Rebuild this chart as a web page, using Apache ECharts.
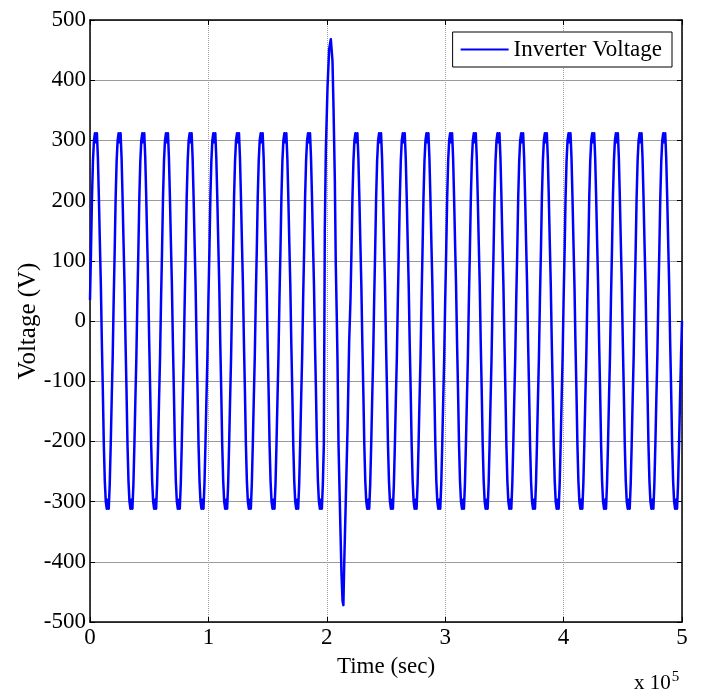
<!DOCTYPE html>
<html><head><meta charset="utf-8">
<script src="https://cdn.jsdelivr.net/npm/echarts@6/dist/echarts.min.js"></script>
<style>html,body{margin:0;padding:0;background:#fff}#c{width:701px;height:691px}</style>
</head><body><div id="c"></div>
<script>
// ---- data (time in units of 1e5, voltage in V) ----
const xTickLabels = ['0', '1', '2', '3', '4', '5'];
const yTickValues = [-500, -400, -300, -200, -100, 0, 100, 200, 300, 400, 500];
const seriesName = 'Inverter Voltage';
// start time of each fundamental cycle
const cycleStarts = [0, 0.2, 0.4, 0.6, 0.8, 1.0, 1.2, 1.4, 1.6, 1.8, 2.0, 2.2, 2.4,
  2.6, 2.8, 3.0, 3.2, 3.4, 3.6, 3.8, 4.0, 4.2, 4.4, 4.6, 4.8];
const cycleLength = 0.2;
// staircase levels of one normal cycle (held values)
const stepLevels = [35, 115, 205, 266, 300, 312, 297, 312, 271, 205, 130, 60,
  -35, -115, -205, -266, -300, -312, -297, -312, -271, -205, -130, -60];
// disturbed cycle near t = 2e5 (times and held values)
const transientT = [1.983, 1.992, 2.006, 2.020, 2.034, 2.048, 2.057, 2.068, 2.076, 2.084,
  2.090, 2.099, 2.113, 2.124, 2.133, 2.140, 2.147, 2.161, 2.175, 2.189];
const transientV = [149, 285, 388, 452, 468, 432, 352, 232, 93, 10,
  -60, -206, -328, -420, -465, -472, -404, -293, -179, -34];
const transientEnd = 2.2;
const finalPoint = [5, 0];

// ---- build series ----
const pts = [];
cycleStarts.forEach(c => {
  stepLevels.forEach((v, k) => {
    const t = c + k * cycleLength / stepLevels.length;
    if (t >= transientT[0] - 1e-9 && t < transientEnd - 1e-9) return;
    pts.push([t, v]);
  });
});
transientT.forEach((t, i) => pts.push([t, transientV[i]]));
pts.push(finalPoint);
pts.sort((a, b) => a[0] - b[0]);

const FONT = "'Liberation Serif', 'Times New Roman', serif";
const chart = echarts.init(document.getElementById('c'), null, {renderer: 'canvas'});
chart.setOption({
  animation: false,
  backgroundColor: '#ffffff',
  grid: {left: 90, right: 19, top: 20, bottom: 69, containLabel: false},
  legend: {
    data: [{name: seriesName, icon: 'rect'}],
    right: 29, top: 32,
    backgroundColor: '#ffffff',
    borderColor: '#000000', borderWidth: 1, borderRadius: 0,
    padding: [6, 10, 6, 8],
    itemWidth: 48, itemHeight: 2, itemGap: 0, itemTextGap: 9,
    itemStyle: {color: '#0000ff'},
    lineStyle: {color: '#0000ff', width: 2},
    textStyle: {fontFamily: FONT, fontSize: 23, color: '#000'}
  },
  xAxis: [{
    type: 'value', min: 0, max: 5, interval: 1,
    name: 'Time (sec)', nameLocation: 'middle', nameGap: 33, nameMoveOverlap: false,
    nameTextStyle: {fontFamily: FONT, fontSize: 23, color: '#000'},
    axisLine: {show: true, onZero: false, lineStyle: {color: '#000', width: 1.5}},
    axisTick: {show: true, inside: true, length: 5, lineStyle: {color: '#000'}},
    axisLabel: {fontFamily: FONT, fontSize: 23, color: '#000', margin: 4,
      formatter: v => xTickLabels[Math.round(v)]},
    splitLine: {show: true, lineStyle: {color: '#a0a0a0', type: 'dotted', width: 1}}
  }, {
    type: 'value', min: 0, max: 5, interval: 1, position: 'top',
    axisLine: {show: true, onZero: false, lineStyle: {color: '#000', width: 1.5}},
    axisTick: {show: true, inside: true, length: 5, lineStyle: {color: '#000'}},
    axisLabel: {show: false}, splitLine: {show: false}
  }],
  yAxis: [{
    type: 'value', min: yTickValues[0], max: yTickValues[yTickValues.length - 1], interval: 100,
    name: 'Voltage (V)', nameLocation: 'middle', nameGap: 49, nameRotate: 90, nameMoveOverlap: false,
    nameTextStyle: {fontFamily: FONT, fontSize: 25, color: '#000'},
    axisLine: {show: true, onZero: false, lineStyle: {color: '#000', width: 1.5}},
    axisTick: {show: true, inside: true, length: 5, lineStyle: {color: '#000'}},
    axisLabel: {fontFamily: FONT, fontSize: 23, color: '#000', margin: 4},
    splitLine: {show: true, lineStyle: {color: '#9a9a9a', type: 'solid', width: 1}}
  }, {
    type: 'value', min: yTickValues[0], max: yTickValues[yTickValues.length - 1], interval: 100,
    position: 'right',
    axisLine: {show: true, onZero: false, lineStyle: {color: '#000', width: 1.5}},
    axisTick: {show: true, inside: true, length: 5, lineStyle: {color: '#000'}},
    axisLabel: {show: false}, splitLine: {show: false}
  }],
  graphic: [{
    type: 'text', left: 634, top: 670,
    style: {
      text: 'x 10{s|5}', fill: '#000',
      font: "21px 'Liberation Serif', serif",
      rich: {s: {fontFamily: FONT, fontSize: 15, verticalAlign: 'top', padding: [0, 0, 12, 1]}}
    }
  }],
  series: [{
    name: seriesName, type: 'line', step: 'end',
    data: pts, symbol: 'none', showSymbol: false,
    sampling: null, clip: true,
    lineStyle: {color: '#0000ff', width: 2.5, join: 'round', cap: 'butt'},
    itemStyle: {color: '#0000ff'}
  }]
});
</script></body></html>
